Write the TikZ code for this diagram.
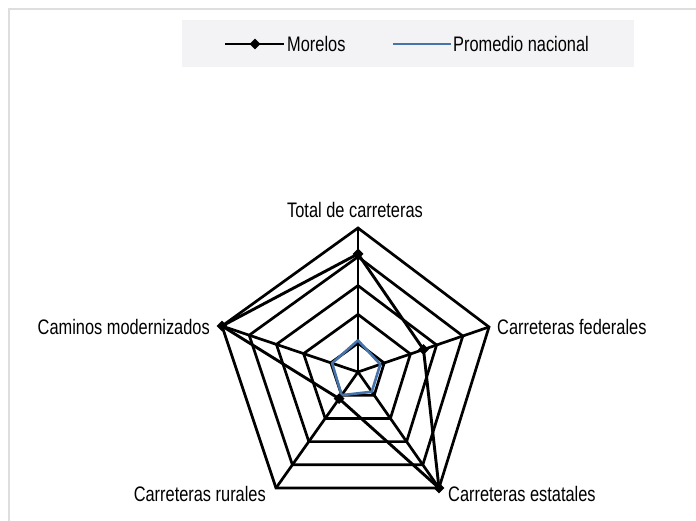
\documentclass[tikz,border=0pt]{standalone}
\usepackage{fontspec}
\setmainfont{Liberation Sans}[FakeStretch=0.78]
\usetikzlibrary{calc,shapes.geometric}
\definecolor{framegray}{RGB}{222,222,222}
\definecolor{legendgray}{RGB}{243,243,245}
\definecolor{natblue}{RGB}{70,116,170}
\tikzset{
  gridline/.style={line width=2.7pt, black, line join=miter, miter limit=4},
  morelos/.style={line width=2.9pt, black, line join=round},
  nacional/.style={line width=2.6pt, natblue, line join=round},
  dmark/.style={diamond, fill=black, inner sep=0pt, minimum size=11pt},
  lbl/.style={font=\fontsize{21}{25}\selectfont, inner sep=0pt, text=black}
}
\begin{document}
\begin{tikzpicture}[x=1pt,y=-1pt]
\useasboundingbox (0,0) rectangle (696,521);
% frame
\draw[framegray, line width=1.6pt] (9,521) -- (9,9) -- (696,9);
% legend
\node[fill=legendgray, minimum width=452pt, minimum height=47pt, inner sep=0pt] (legend) at (408,43.5) {};
\coordinate (la) at (225,44);
\coordinate (lb) at (284,44);
\draw[morelos] (la) -- (lb);
\node[dmark] (lm) at (255,44) {};
\node[lbl, anchor=west] (lt1) at (287,44) {Morelos};
\coordinate (lc) at (393,44);
\coordinate (ld) at (451,44);
\draw[nacional] (lc) -- (ld);
\node[lbl, anchor=west] (lt2) at (453,44) {Promedio nacional};
% radar geometry
\coordinate (C) at (358,372);
\coordinate (V1) at (358,228);
\coordinate (V2) at (489,327);
\coordinate (V3) at (439,488);
\coordinate (V4) at (276,488);
\coordinate (V5) at (222,326);
% rings
\foreach \f in {0.2,0.4,0.6,0.8,1} {
  \draw[gridline] ($(C)!\f!(V1)$) -- ($(C)!\f!(V2)$) -- ($(C)!\f!(V3)$) -- ($(C)!\f!(V4)$) -- ($(C)!\f!(V5)$) -- cycle;
}
% axes
\foreach \i in {1,...,5} { \draw[gridline] (C) -- (V\i); }
% promedio nacional
\coordinate (n1) at ($(C)!0.22!(V1)$);
\coordinate (n2) at ($(C)!0.17!(V2)$);
\coordinate (n3) at ($(C)!0.17!(V3)$);
\coordinate (n4) at ($(C)!0.20!(V4)$);
\coordinate (n5) at ($(C)!0.19!(V5)$);
\draw[nacional] (n1) -- (n2) -- (n3) -- (n4) -- (n5) -- cycle;
% morelos
\coordinate (m1) at ($(C)!0.82!(V1)$);
\coordinate (m2) at ($(C)!0.50!(V2)$);
\coordinate (m3) at ($(C)!1.00!(V3)$);
\coordinate (m4) at ($(C)!0.23!(V4)$);
\coordinate (m5) at ($(C)!1.00!(V5)$);
\draw[morelos] (m1) -- (m2) -- (m3) -- (m4) -- (m5) -- cycle;
\foreach \i in {1,...,5} { \node[dmark] (dm\i) at (m\i) {}; }
% labels
\node[lbl] (t1) at (355,210) {Total de carreteras};
\node[lbl, anchor=west] (t2) at (497,327) {Carreteras federales};
\node[lbl, anchor=west] (t3) at (448,494) {Carreteras estatales};
\node[lbl, anchor=east] (t4) at (266,494) {Carreteras rurales};
\node[lbl, anchor=east] (t5) at (210,327) {Caminos modernizados};
\end{tikzpicture}
\end{document}
